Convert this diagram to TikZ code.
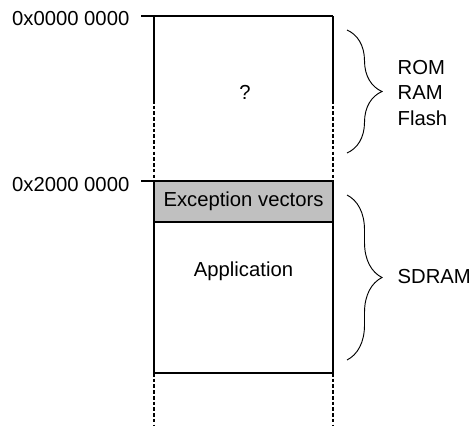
\documentclass[tikz,border=0pt]{standalone}
\usepackage{fontspec}
\setmainfont{Liberation Sans}
\usetikzlibrary{positioning,calc}
\usetikzlibrary{decorations.pathreplacing}
\definecolor{excgray}{RGB}{192,192,192}

\begin{document}
\begin{tikzpicture}[x=0.75pt,y=-0.75pt,line width=1pt,
   font=\fontsize{15.2}{18.8}\selectfont,
   gap/.style={dash pattern=on 2.7pt off 1.6pt},
   curly/.style={decorate,decoration={brace,amplitude=26.25pt},line width=0.7pt}]
   \useasboundingbox (0,0) rectangle (471,425);
   % corners of the memory map
   \coordinate (a0) at (141,16);
   \coordinate (tl) at (154,16);  \coordinate (tr) at (333,16);
   \coordinate (ml) at (154,100); \coordinate (mr) at (333,100);
   \coordinate (a2) at (141,181);
   \coordinate (el) at (154,181); \coordinate (er) at (333,181);
   \coordinate (al) at (154,222); \coordinate (ar) at (333,222);
   \coordinate (bl) at (154,373); \coordinate (br) at (333,373);
   \coordinate (zl) at (154,425); \coordinate (zr) at (333,425);
   % brace ends
   \coordinate (r0) at (347,30);  \coordinate (r1) at (347,153);
   \coordinate (s0) at (347,195); \coordinate (s1) at (347,360);

   \fill[excgray] (el) rectangle (ar);
   \draw (a0) -- (tr);
   \draw (ml) -- (tl) (tr) -- (mr);
   \draw[gap] (ml) -- (el) (mr) -- (er);
   \draw (a2) -- (er) -- (br) -- (bl) -- (el);
   \draw (al) -- (ar);
   \draw[gap] (bl) -- (zl) (br) -- (zr);

   \node[anchor=east,inner sep=0pt] (adr0) at (130,19) {0x0000 0000};
   \node[anchor=east,inner sep=0pt] (adr2) at (130,185) {0x2000 0000};
   \node (unk) at (245,92) {?};
   \node (exc) at (243.5,201.5) {Exception vectors};
   \node (app) at (243.5,271) {Application};

   \draw[curly] (r0) -- (r1);
   \draw[curly] (s0) -- (s1);
   \node[anchor=west,align=left,inner sep=0pt] (mem) at (397,93) {ROM\\RAM\\Flash};
   \node[anchor=west,inner sep=0pt] (sdram) at (397,277) {SDRAM};
\end{tikzpicture}
\end{document}
